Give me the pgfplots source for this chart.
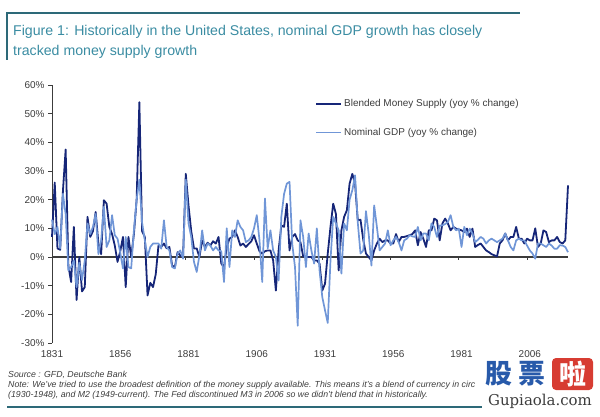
\documentclass[border=0pt]{standalone}
\usepackage{fontspec}
\setmainfont{Liberation Sans}
\newfontfamily\cjk{Noto Sans CJK SC}
\newfontfamily\wmserif{DejaVu Serif}
\usepackage{pgfplots}
\usepackage{pgfplotstable}
\pgfplotsset{compat=1.18}
\definecolor{titleteal}{RGB}{58,140,162}
\definecolor{ruleteal}{RGB}{45,105,120}
\definecolor{darkser}{RGB}{22,38,120}
\definecolor{lightser}{RGB}{112,150,215}
\definecolor{txtgray}{RGB}{60,60,60}
\definecolor{wmblue}{RGB}{40,90,170}
\definecolor{wmred}{RGB}{215,60,50}

\pgfplotstableread{
year val
1831 7
1832 26
1833 3
1834 2.5
1835 23
1836 37.5
1837 -3
1838 -8.7
1839 10.5
1840 -15
1841 0
1842 -12
1843 -10.5
1844 14
1845 7
1846 9
1847 15.7
1848 4.7
1849 1
1850 19.8
1851 18.6
1852 10.5
1853 8
1854 4
1855 -1.7
1856 2
1857 7
1858 -10.5
1859 7
1860 0
1861 8
1862 20
1863 54
1864 9
1865 7
1866 -13.4
1867 -9
1868 -10.5
1869 -6
1870 4
1871 3.5
1872 4.7
1873 3
1874 3.5
1875 -3
1876 -3.5
1877 1.7
1878 0.5
1879 0
1880 29
1881 18
1882 9
1883 3
1884 3
1885 0
1886 5.8
1887 3.5
1888 5
1889 4
1890 5.5
1891 4.7
1892 7
1893 -2.3
1894 -3.5
1895 3.5
1896 6.4
1897 7
1898 9.3
1899 7
1900 4
1901 4.7
1902 3.5
1903 4.5
1904 5.5
1905 7.6
1906 4.7
1907 2
1908 1.2
1909 2
1910 2.3
1911 2.3
1912 -1.2
1913 -11.7
1914 2.3
1915 11
1916 10.5
1917 18.6
1918 2.3
1919 7
1920 8
1921 5.8
1922 5.2
1923 0.2
1924 0.2
1925 0
1926 0
1927 -1.2
1928 -1.2
1929 -2.3
1930 -11.7
1931 -9.3
1932 1.2
1933 10.5
1934 18.6
1935 15
1936 -4.7
1937 9.3
1938 14
1939 16.3
1940 25.6
1941 29
1942 25.6
1943 12.8
1944 13
1945 6
1946 1.2
1947 0
1948 -1.2
1949 2.3
1950 4.7
1951 6.4
1952 5.2
1953 5.8
1954 5.8
1955 4.7
1956 4.7
1957 8
1958 5.2
1959 7
1960 7
1961 7.3
1962 7.6
1963 8
1964 9.3
1965 4.1
1966 8.7
1967 6.4
1968 3.5
1969 9.3
1970 9.3
1971 13.4
1972 12.8
1973 5.8
1974 11.7
1975 13.4
1976 11.7
1977 9.3
1978 10.5
1979 9.9
1980 9.6
1981 9.3
1982 8.7
1983 9.9
1984 7
1985 9.9
1986 3.5
1987 4.2
1988 4.7
1989 3.5
1990 2.3
1991 1.7
1992 1
1993 0.6
1994 0.2
1995 4.7
1996 5.8
1997 8.2
1998 5.8
1999 7
2000 7
2001 10.5
2002 6.4
2003 6.4
2004 4.7
2005 6.4
2006 5.8
2007 5.8
2008 10
2009 3.5
2010 4.7
2011 9.3
2012 8.7
2013 5.2
2014 5.8
2015 5.8
2016 7
2017 5.2
2018 4.7
2019 5.8
2020 25
}\moneytable

\pgfplotstableread{
year val
1831 13
1832 8
1833 10.5
1834 3
1835 22
1836 15
1837 -4.7
1838 -3.5
1839 -1.2
1840 -10.5
1841 -2
1842 -8
1843 -1.2
1844 11.7
1845 8
1846 10.5
1847 15
1848 1
1849 5.8
1850 17.5
1851 3.5
1852 5.8
1853 14.6
1854 7.6
1855 6.4
1856 1.5
1857 -4
1858 7
1859 -3.5
1860 -4
1861 9.3
1862 20
1863 27
1864 12
1865 5.8
1866 0
1867 3.5
1868 4.7
1869 4.7
1870 4.7
1871 2.9
1872 12.8
1873 3.5
1874 2.3
1875 -3.5
1876 -4
1877 1.2
1878 2.3
1879 -0.6
1880 27
1881 11.7
1882 7
1883 -1.7
1884 -5.2
1885 0.6
1886 9.3
1887 2.3
1888 4.7
1889 4
1890 2.3
1891 3.5
1892 2.3
1893 2
1894 -8.7
1895 10
1896 -3.5
1897 9.3
1898 7
1899 12.8
1900 10.5
1901 9.3
1902 5.2
1903 5.8
1904 7
1905 10
1906 14.6
1907 5.8
1908 -8.7
1909 20.4
1910 3
1911 9.3
1912 2.3
1913 0
1914 -8.2
1915 14
1916 22
1917 25.6
1918 26.2
1919 4.5
1920 -3.5
1921 -24
1922 12.8
1923 7
1924 -3.5
1925 8.2
1926 2.3
1927 -2.3
1928 10
1929 -4.7
1930 -14
1931 -18.6
1932 -23
1933 -1.2
1934 14
1935 11.7
1936 9.3
1937 -5.8
1938 11.7
1939 9.3
1940 20
1941 23.3
1942 28.5
1943 12
1944 1.2
1945 2.3
1946 16
1947 8
1948 -3
1949 18
1950 10.5
1951 2.3
1952 3.5
1953 4.7
1954 9.3
1955 4.1
1956 5.8
1957 7
1958 5.2
1959 2.3
1960 5.8
1961 6.4
1962 7.6
1963 7.2
1964 7
1965 10.5
1966 5.8
1967 8.2
1968 8.2
1969 5.8
1970 11.7
1971 10.5
1972 7
1973 11
1974 11
1975 11.5
1976 12.2
1977 14.6
1978 10.5
1979 9.3
1980 9.9
1981 3.5
1982 10.5
1983 7.6
1984 9.9
1985 8.2
1986 5.2
1987 6
1988 7
1989 6.4
1990 4.7
1991 5.8
1992 6.4
1993 5.8
1994 5.2
1995 5.8
1996 6.4
1997 8.2
1998 5.8
1999 3.5
2000 2.3
2001 5.8
2002 6.4
2003 5.8
2004 5.8
2005 4
2006 2.3
2007 1.2
2008 -0.6
2009 4.7
2010 4.7
2011 4.1
2012 3.5
2013 4.7
2014 4
2015 2.9
2016 2.9
2017 4.1
2018 4
2019 3.5
2020 1.7
}\gdptable

\begin{document}
\begin{tikzpicture}[x=1bp,y=1bp]
\path[use as bounding box] (0,0) rectangle (600,416);
% header rules
\draw[ruleteal, line width=1.3bp] (7,403) -- (520,403);
\draw[ruleteal, line width=1.3bp] (7,403.6) -- (7,356);
\node[anchor=base west, inner sep=0, text=titleteal, font=\fontsize{14.2}{16}\selectfont] at (13,381) {Figure 1: Historically in the United States, nominal GDP growth has closely};
\node[anchor=base west, inner sep=0, text=titleteal, font=\fontsize{14.2}{16}\selectfont] at (13,361) {tracked money supply growth};

\begin{axis}[
  at={(52bp,73bp)}, anchor=south west,
  width=516bp, height=258bp, scale only axis,
  xmin=1831, xmax=2020, ymin=-30, ymax=60,
  axis lines*=left,
  x axis line style={draw=none},
  y axis line style={txtgray, line width=1bp},
  xtick={1831,1856,1881,1906,1931,1956,1981,2006},
  xticklabels={1831,1856,1881,1906,1931,1956,1981,2006},
  xtick style={draw=none},
  ytick={-30,-20,-10,0,10,20,30,40,50,60},
  yticklabels={-30\%,-20\%,-10\%,0\%,10\%,20\%,30\%,40\%,50\%,60\%},
  ytick style={txtgray, line width=0.8bp},
  tick align=outside,
  major tick length=4bp,
  tick label style={font=\fontsize{10}{12}\selectfont, text=txtgray},
  /pgf/number format/assume math mode=true,
  clip=false,
  legend style={at={(0.51,0.953)}, anchor=north west, draw=none, fill=none,
    font=\fontsize{10}{12}\selectfont, text=txtgray, row sep=16bp,
    inner sep=0pt},
  legend cell align=left,
  legend image code/.code={\draw[#1] (0bp,0bp) -- (25bp,0bp);},
]
\draw[txtgray, line width=1.1bp] (axis cs:1831,0) -- (axis cs:2020,0);
\draw[txtgray, line width=0.8bp] (axis cs:1855,0) -- (axis cs:1855,-1.1);
\draw[txtgray, line width=0.8bp] (axis cs:1880,0) -- (axis cs:1880,-1.1);
\draw[txtgray, line width=0.8bp] (axis cs:1905,0) -- (axis cs:1905,-1.1);
\draw[txtgray, line width=0.8bp] (axis cs:1930,0) -- (axis cs:1930,-1.1);
\draw[txtgray, line width=0.8bp] (axis cs:1955,0) -- (axis cs:1955,-1.1);
\draw[txtgray, line width=0.8bp] (axis cs:1980,0) -- (axis cs:1980,-1.1);
\draw[txtgray, line width=0.8bp] (axis cs:2005,0) -- (axis cs:2005,-1.1);
\addplot[darkser, line width=1.8bp, line join=round] table[x=year, y=val] {\moneytable};
\addlegendentry{Blended Money Supply (yoy \% change)}
\addplot[lightser, line width=1.7bp, line join=round] table[x=year, y=val] {\gdptable};
\addlegendentry{Nominal GDP (yoy \% change)}
\end{axis}

% footer
\node[anchor=base west, inner sep=0, text=txtgray, font=\fontsize{8.8}{10}\selectfont\itshape] at (8,39) {Source : GFD, Deutsche Bank};
\node[anchor=base west, inner sep=0, text=txtgray, font=\fontsize{8.8}{10}\selectfont\itshape] at (8,29) {Note: We've tried to use the broadest definition of the money supply available. This means it's a blend of currency in circ};
\node[anchor=base west, inner sep=0, text=txtgray, font=\fontsize{8.8}{10}\selectfont\itshape] at (8,19) {(1930-1948), and M2 (1949-current). The Fed discontinued M3 in 2006 so we didn't blend that in historically.};
\draw[ruleteal, line width=1.3bp] (7,9) -- (482,9);

% watermark
\node[anchor=center, inner sep=0, text=wmblue, font=\cjk\bfseries\fontsize{27}{27}\selectfont] at (498.5,42.5) {股};
\node[anchor=center, inner sep=0, text=wmblue, font=\cjk\bfseries\fontsize{27}{27}\selectfont] at (531.5,42.5) {票};
\fill[wmred, rounded corners=4bp] (552,26) rectangle (593,58);
\node[anchor=center, inner sep=0, text=white, font=\cjk\bfseries\fontsize{27}{27}\selectfont] at (572.5,42) {啦};
\node[anchor=center, inner sep=0, text=txtgray, font=\wmserif\fontsize{15}{15}\selectfont] at (540,15) {Gupiaola.com};
\end{tikzpicture}
\end{document}
